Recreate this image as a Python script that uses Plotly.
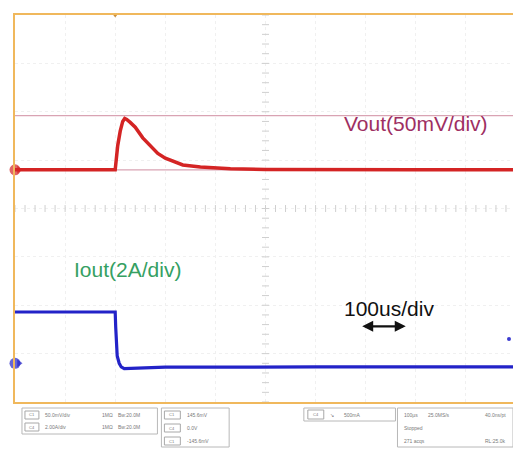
import numpy as np
import plotly.graph_objects as go

# ---------------- data ----------------
# Time base: 10 div x 100 us/div
t_vout_us = [0, 100, 200, 202, 205, 210, 215, 219, 223, 230, 240, 255, 270, 285, 300,
             320, 335, 370, 430, 500, 600, 800, 1000]
vout_mV = [0, 0, 0, 10, 25, 40, 50, 53, 52, 49, 44, 33, 24.5, 17, 12,
           7.5, 5, 2.8, 1, 0.3, 0, 0, 0]

t_iout_us = [0, 100, 200, 201, 202, 204, 208, 212, 218, 240, 300, 600, 1000]
iout_A = [2.12, 2.12, 2.12, 1.5, 0.8, 0.3, 0.0, -0.15, -0.22, -0.2, -0.16, -0.15, -0.15]

cursor_levels_mV = [0, 56]
trigger_time_us = 200
trigger_level_A = 1.0

vout_label = "Vout(50mV/div)"
iout_label = "Iout(2A/div)"
timebase_label = "100us/div"

# Readout boxes (oscilloscope status panel)
readout_ch = [["C1", "50.0mV/div", "1MΩ", "Bw:20.0M"],
              ["C4", "2.00A/div", "1MΩ", "Bw:20.0M"]]
readout_cursor = [["C1", "145.6mV"], ["C4", "0.0V"], ["C1", "-145.6mV"]]
readout_trig = ["C4", "↘", "500mA"]
readout_time = [["100µs", "25.0MS/s", "40.0ns/pt"], ["Stopped", "", ""], ["271 acqs", "", "RL:25.0k"]]

# ---------------- styling ----------------
RED = "#d42424"
BLUE = "#2323c8"
FRAME = "#f0b85c"
GRID = "#f0f0f0"

fig = go.Figure()

# centre graticule minor ticks
fig.add_trace(go.Scatter(x=np.arange(0, 1001, 20), y=[-40] * 51, mode="markers",
                         marker=dict(symbol="line-ns", size=5, line=dict(width=1, color="#cfcfcf")),
                         hoverinfo="skip", showlegend=False))
fig.add_trace(go.Scatter(x=[500] * 41, y=np.arange(-240, 161, 10), mode="markers",
                         marker=dict(symbol="line-ew", size=5, line=dict(width=1, color="#cfcfcf")),
                         hoverinfo="skip", showlegend=False))

# cursors
for lvl in cursor_levels_mV:
    fig.add_trace(go.Scatter(x=[0, 1000], y=[lvl, lvl], mode="lines",
                             line=dict(color="#d9a3b3", width=1.2),
                             hoverinfo="skip", showlegend=False))

# traces
fig.add_trace(go.Scatter(x=t_vout_us, y=vout_mV, mode="lines",
                         line=dict(color=RED, width=3.5), showlegend=False))
fig.add_trace(go.Scatter(x=t_iout_us, y=iout_A, mode="lines", yaxis="y2",
                         line=dict(color=BLUE, width=3.2), showlegend=False))

# ground markers
fig.add_trace(go.Scatter(x=[0, 8], y=[0, 0], mode="markers", cliponaxis=False,
                         marker=dict(symbol=["circle", "triangle-right"], size=[11, 7], color=RED,
                                     line=dict(width=0)),
                         showlegend=False))
fig.add_trace(go.Scatter(x=[0, 8], y=[0, 0], mode="markers", cliponaxis=False, yaxis="y2",
                         marker=dict(symbol=["circle", "triangle-right"], size=[11, 7], color=BLUE,
                                     line=dict(width=0)),
                         showlegend=False))
# trigger level marker (right) and trigger position (top)
fig.add_trace(go.Scatter(x=[986], y=[trigger_level_A], mode="markers", cliponaxis=False, yaxis="y2",
                         marker=dict(symbol="circle", size=4, color="#3a3ad0"), showlegend=False))
fig.add_trace(go.Scatter(x=[trigger_time_us], y=[160], mode="markers", cliponaxis=False,
                         marker=dict(symbol="triangle-down", size=5, color="#c89040"), showlegend=False))

# labels
FONT = "Liberation Sans, Arial"
fig.add_annotation(x=652, y=47.5, xref="x", yref="y", text=vout_label, showarrow=False,
                   xanchor="left", yanchor="middle",
                   font=dict(family=FONT, size=21, color="#9e2f62"))
fig.add_annotation(x=113, y=3.88, xref="x", yref="y2", text=iout_label, showarrow=False,
                   xanchor="left", yanchor="middle",
                   font=dict(family=FONT, size=21, color="#35a062"))
fig.add_annotation(x=652, y=2.27, xref="x", yref="y2", text=timebase_label, showarrow=False,
                   xanchor="left", yanchor="middle",
                   font=dict(family=FONT, size=21, color="#111111"))
fig.add_annotation(x=780, y=1.53, ax=690, ay=1.53, xref="x", yref="y2", axref="x", ayref="y2",
                   text="", showarrow=True, arrowhead=2, arrowside="end+start",
                   arrowsize=1.0, arrowwidth=2.2, arrowcolor="#111111")

# ---------------- readout panel ----------------
def px(xp):
    return (xp - 15) / 503.0


def py(yp):
    return (402 - yp) / 387.0


def box(x0, y0, x1, y1, color="#b8b8b8", width=1):
    fig.add_shape(type="rect", xref="paper", yref="paper", x0=px(x0), x1=px(x1),
                  y0=py(y1), y1=py(y0), line=dict(color=color, width=width),
                  fillcolor="white", layer="above")


def txt(xp, yp, s, size=5, color="#7a7a7a", anchor="left"):
    fig.add_annotation(x=px(xp), y=py(yp), xref="paper", yref="paper", text=s,
                       showarrow=False, xanchor=anchor, yanchor="middle",
                       font=dict(family=FONT, size=size, color=color))


box(22, 408, 158, 434)
for i, row in enumerate(readout_ch):
    yy = 415 + i * 12
    box(25, yy - 4, 39, yy + 4, color="#a8a8a8")
    txt(32, yy, row[0], size=4, anchor="center")
    txt(43, yy, row[1])
    txt(100, yy, row[2])
    txt(116, yy, row[3])

box(162, 408, 230, 447)
for i, row in enumerate(readout_cursor):
    yy = 415 + i * 13
    box(165, yy - 4, 181, yy + 4, color="#a8a8a8")
    txt(173, yy, row[0], size=4, anchor="center")
    txt(186, yy, row[1])

box(305, 408, 397, 421)
box(309, 410, 325, 419, color="#a8a8a8")
txt(317, 414.5, readout_trig[0], size=4, anchor="center")
txt(329, 414.5, readout_trig[1])
txt(343, 414.5, readout_trig[2])

box(399, 408, 515, 447)
for i, row in enumerate(readout_time):
    yy = 415 + i * 13
    txt(404, yy, row[0])
    if row[1]:
        txt(428, yy, row[1])
    if row[2]:
        txt(510, yy, row[2], anchor="right")

# ---------------- layout ----------------
# page body adds an 8px offset; figure is sized so the graticule lands at 15..518 x 15..402
fig.update_layout(
    width=513, height=447,
    margin=dict(l=7, r=3, t=7, b=53),
    paper_bgcolor="white", plot_bgcolor="white",
    xaxis=dict(range=[0, 1000], showticklabels=False, ticks="", zeroline=False,
               showgrid=True, tick0=0, dtick=100, gridcolor=GRID, griddash="dot", gridwidth=1,
               showline=True, mirror=True, linecolor=FRAME, linewidth=2),
    yaxis=dict(range=[-240, 160], showticklabels=False, ticks="", zeroline=False,
               showgrid=True, tick0=-240, dtick=50, gridcolor=GRID, griddash="dot", gridwidth=1,
               showline=True, mirror=True, linecolor=FRAME, linewidth=2),
    yaxis2=dict(range=[-1.6, 14.4], overlaying="y", visible=False),
)

fig.write_html("out.html")
